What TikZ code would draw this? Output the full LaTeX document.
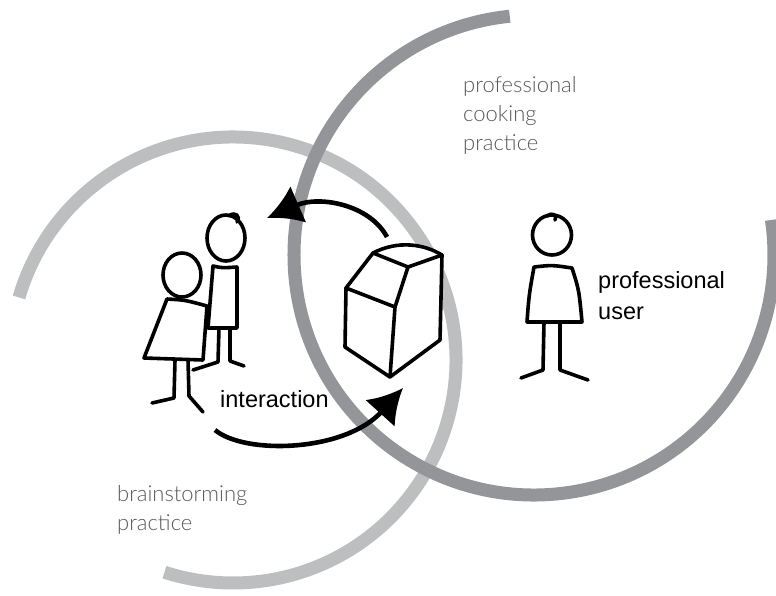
\documentclass[tikz,border=0pt]{standalone}
\usepackage{fontspec}
\setmainfont{Liberation Sans}
\newfontfamily\thinfont{Lato Light}
\usetikzlibrary{arrows.meta}
\definecolor{brainGray}{HTML}{BCBEC0}
\definecolor{cookGray}{HTML}{939598}
\definecolor{labelGray}{HTML}{58595B}

\begin{document}
\begin{tikzpicture}[x=1pt,y=1pt,yscale=-1,
    practice/.style={line width=13pt},
    sketch/.style={line width=3.6pt,line cap=round,line join=round},
    flow/.style={line width=4.6pt,-{Latex[length=34pt,width=40pt]}},
    quiet/.style={text=labelGray,align=left,inner sep=0pt,anchor=north west,
      font=\thinfont\fontsize{22}{29}\selectfont},
    loud/.style={align=left,inner sep=0pt,anchor=north west,
      font=\fontsize{23.5}{31}\selectfont}]

  \useasboundingbox (0,0) rectangle (776,595);

  % the two practices
  \draw[practice,brainGray] (233,360) ++(-163.7:223)
    arc[start angle=-163.7,end angle=107.9,radius=223];
  \draw[practice,cookGray] (534,255) ++(264.2:240)
    arc[start angle=264.2,end angle=-8.4,radius=240];

  \node[quiet] (cook) at (463,76) {professional\\cooking\\practice};
  \node[quiet] (brain) at (117,485) {brainstorming\\practice};
  \node[loud] (user) at (598,271) {professional\\user};
  \node[loud] (inter) at (220,390) {interaction};

  % back person of the pair
  \draw[sketch,fill=white] (226,238) ellipse[x radius=19,y radius=23];
  \draw[sketch] (229,216) .. controls (235,211) and (241,216) .. (237,222);
  \draw[sketch,fill=white] (213,266) .. controls (222,268) .. (237,267)
    -- (237,328) -- (208,328) -- cycle;
  \draw[sketch] (219,328) -- (218,362) -- (193,370);
  \draw[sketch] (230,328) -- (230,361) -- (244,366);

  % front person of the pair
  \draw[sketch,fill=white] (182,275) ellipse[x radius=19,y radius=22];
  \draw[sketch,fill=white] (167,299) .. controls (185,300) .. (207,306)
    -- (203,360) -- (144,358) -- cycle;
  \draw[sketch] (175,360) -- (174,398) -- (152,403);
  \draw[sketch] (188,360) -- (189,396) -- (203,412);

  % professional user
  \draw[sketch,fill=white] (552,235) ellipse[x radius=19.5,y radius=20];
  \draw[sketch] (547,216) .. controls (552,212) and (558,215) .. (555,220);
  \draw[sketch,fill=white] (534,267) .. controls (552,265) .. (572,268)
    .. controls (579,290) .. (582,322) -- (527,322) .. controls (529,295) .. cycle;
  \draw[sketch] (544,322) -- (543,370) -- (521,378);
  \draw[sketch] (560,322) -- (560,370) -- (588,380);

  % the appliance
  \draw[sketch,fill=white] (373,253) .. controls (398,240) and (424,244) .. (442,255)
    -- (440,340) -- (390,377) -- (345,347) -- (346,288) -- cycle;
  \draw[sketch] (373,253) -- (408,267) -- (442,255);
  \draw[sketch] (408,267) -- (395,307) -- (346,288);
  \draw[sketch] (395,307) -- (390,377);

  % interaction loop
  \coordinate (boxTop) at (387,237);
  \coordinate (pairHead) at (267,218);
  \coordinate (pairFeet) at (215,430);
  \coordinate (boxFoot) at (403,388);
  \draw[flow] (boxTop) .. controls (370,205) and (320,195) .. (pairHead);
  \draw[flow] (pairFeet) .. controls (245,455) and (345,452) .. (boxFoot);

\end{tikzpicture}
\end{document}
